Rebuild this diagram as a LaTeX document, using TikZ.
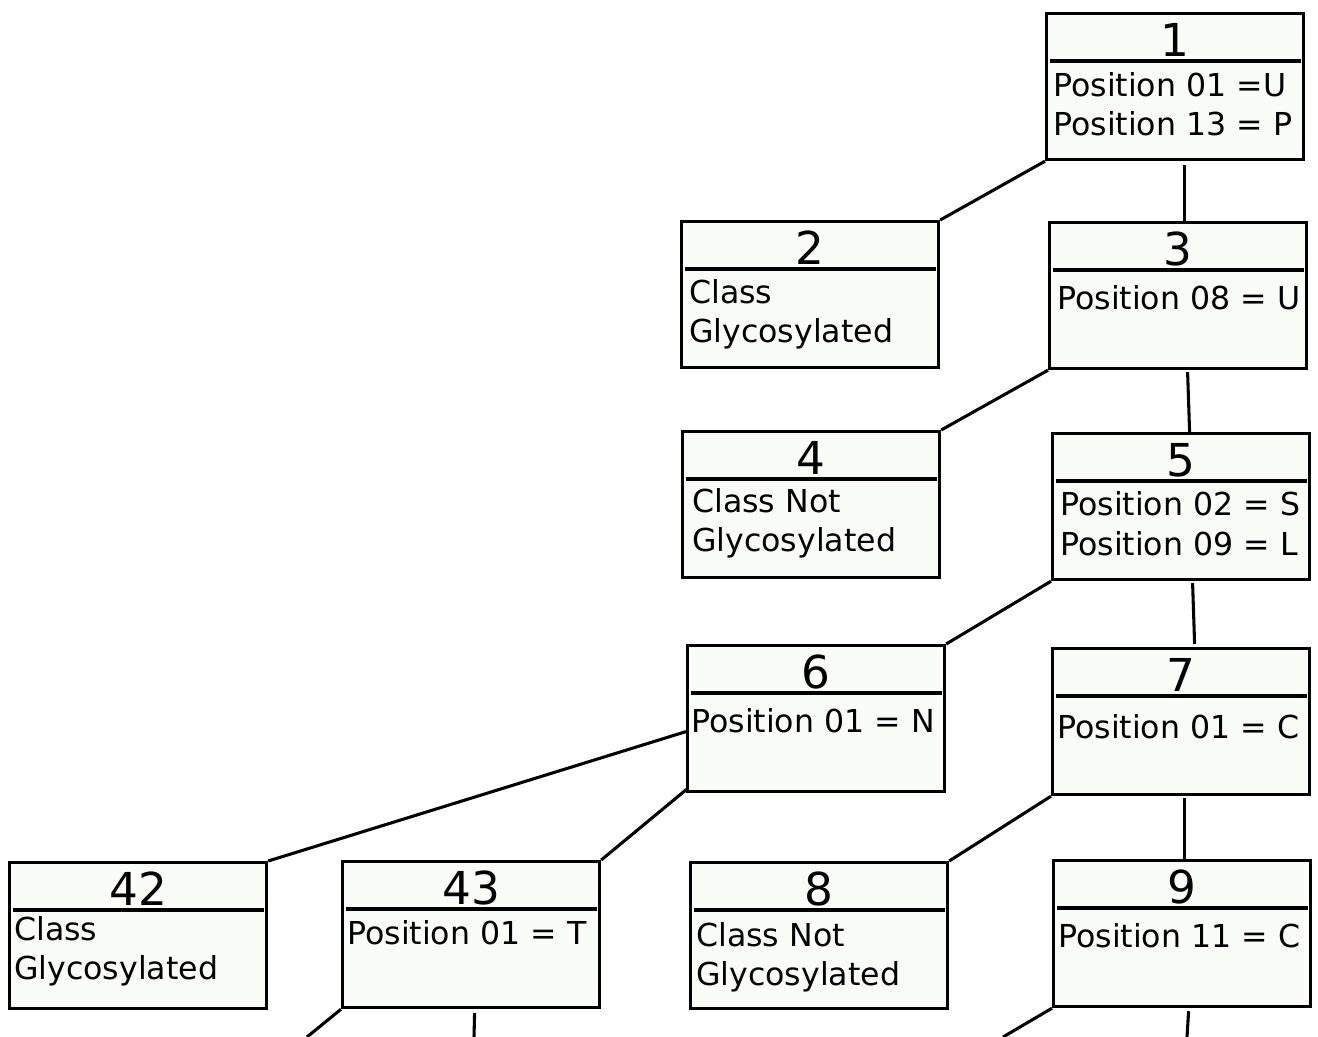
\documentclass[tikz,border=0pt]{standalone}
\usepackage{fontspec}
\setmainfont{DejaVu Sans}
\definecolor{boxfill}{RGB}{250,252,248}
\tikzset{
  tbox/.style={draw=black, fill=boxfill, line width=2.4pt, inner sep=0pt,
    minimum width=192.75pt, minimum height=109.5pt, anchor=north west},
  sepline/.style={line width=2.3pt},
  conn/.style={line width=2.3pt},
  titletext/.style={inner sep=0pt, anchor=base, font=\fontsize{34}{40}\selectfont},
  bodytext/.style={inner sep=0pt, anchor=base west, font=\fontsize{23.7}{28}\selectfont},
}
\newcommand{\treebox}[4]{%
  \node[tbox] (#1) at (#2,#3) {};
  \node[titletext] (#1n) at ([shift={(0,44)}]#1.north) {#4};
  \draw[sepline] ([shift={(5,49)}]#1.north west) -- ([shift={(-4,49)}]#1.north east);
}
\newcommand{\boxline}[5]{% name, box, xoff, yoff, text
  \node[bodytext] (#1) at ([shift={(#3,#4)}]#2.north west) {#5};
}
\begin{document}
\begin{tikzpicture}[x=0.75pt,y=-0.75pt]
\useasboundingbox (0,0) rectangle (1318,1036);

\coordinate (e43a) at (307,1037);
\coordinate (e43b) at (474,1037);
\coordinate (e9a) at (1003,1037);
\coordinate (e9b) at (1187,1037);

\treebox{b1}{1045}{12}{1}
\treebox{b2}{680}{220}{2}
\treebox{b3}{1048}{221}{3}
\treebox{b4}{681}{430}{4}
\treebox{b5}{1051}{432}{5}
\treebox{b6}{686}{644}{6}
\treebox{b7}{1051}{647}{7}
\treebox{b42}{8}{861}{42}
\treebox{b43}{341}{860}{43}
\treebox{b8}{689}{861}{8}
\treebox{b9}{1052}{859}{9}

\boxline{b1a}{b1}{8}{84}{Position 01 =U}
\boxline{b1b}{b1}{8}{123}{Position 13 = P}
\boxline{b2a}{b2}{9}{83}{Class}
\boxline{b2b}{b2}{9}{122}{Glycosylated}
\boxline{b3a}{b3}{9}{88}{Position 08 = U}
\boxline{b4a}{b4}{11}{82}{Class Not}
\boxline{b4b}{b4}{11}{121}{Glycosylated}
\boxline{b5a}{b5}{9}{83}{Position 02 = S}
\boxline{b5b}{b5}{9}{123}{Position 09 = L}
\boxline{b6a}{b6}{5}{88}{Position 01 = N}
\boxline{b7a}{b7}{6}{91}{Position 01 = C}
\boxline{b42a}{b42}{6}{79}{Class}
\boxline{b42b}{b42}{6}{118}{Glycosylated}
\boxline{b43a}{b43}{6}{84}{Position 01 = T}
\boxline{b8a}{b8}{7}{85}{Class Not}
\boxline{b8b}{b8}{7}{124}{Glycosylated}
\boxline{b9a}{b9}{6}{88}{Position 11 = C}

\draw[conn] (b1.south west) -- (b2.north east);
\draw[conn] ([shift={(9.5,4)}]b1.south) -- ([shift={(6.5,0)}]b3.north);
\draw[conn] (b3.south west) -- (b4.north east);
\draw[conn] ([shift={(9.5,2)}]b3.south) -- ([shift={(8.5,0)}]b5.north);
\draw[conn] (b5.south west) -- (b6.north east);
\draw[conn] ([shift={(11.5,2)}]b5.south) -- ([shift={(13.5,-3)}]b7.north);
\draw[conn] ([shift={(0,13)}]b6.west) -- (b42.north east);
\draw[conn] ([shift={(2,-5)}]b6.south west) -- (b43.north east);
\draw[conn] (b7.south west) -- (b8.north east);
\draw[conn] ([shift={(3.5,2)}]b7.south) -- ([shift={(2.5,0)}]b9.north);
\draw[conn] (b43.south west) -- (e43a);
\draw[conn] ([shift={(3.5,4)}]b43.south) -- (e43b);
\draw[conn] (b9.south west) -- (e9a);
\draw[conn] ([shift={(6.5,3)}]b9.south) -- (e9b);
\end{tikzpicture}
\end{document}
